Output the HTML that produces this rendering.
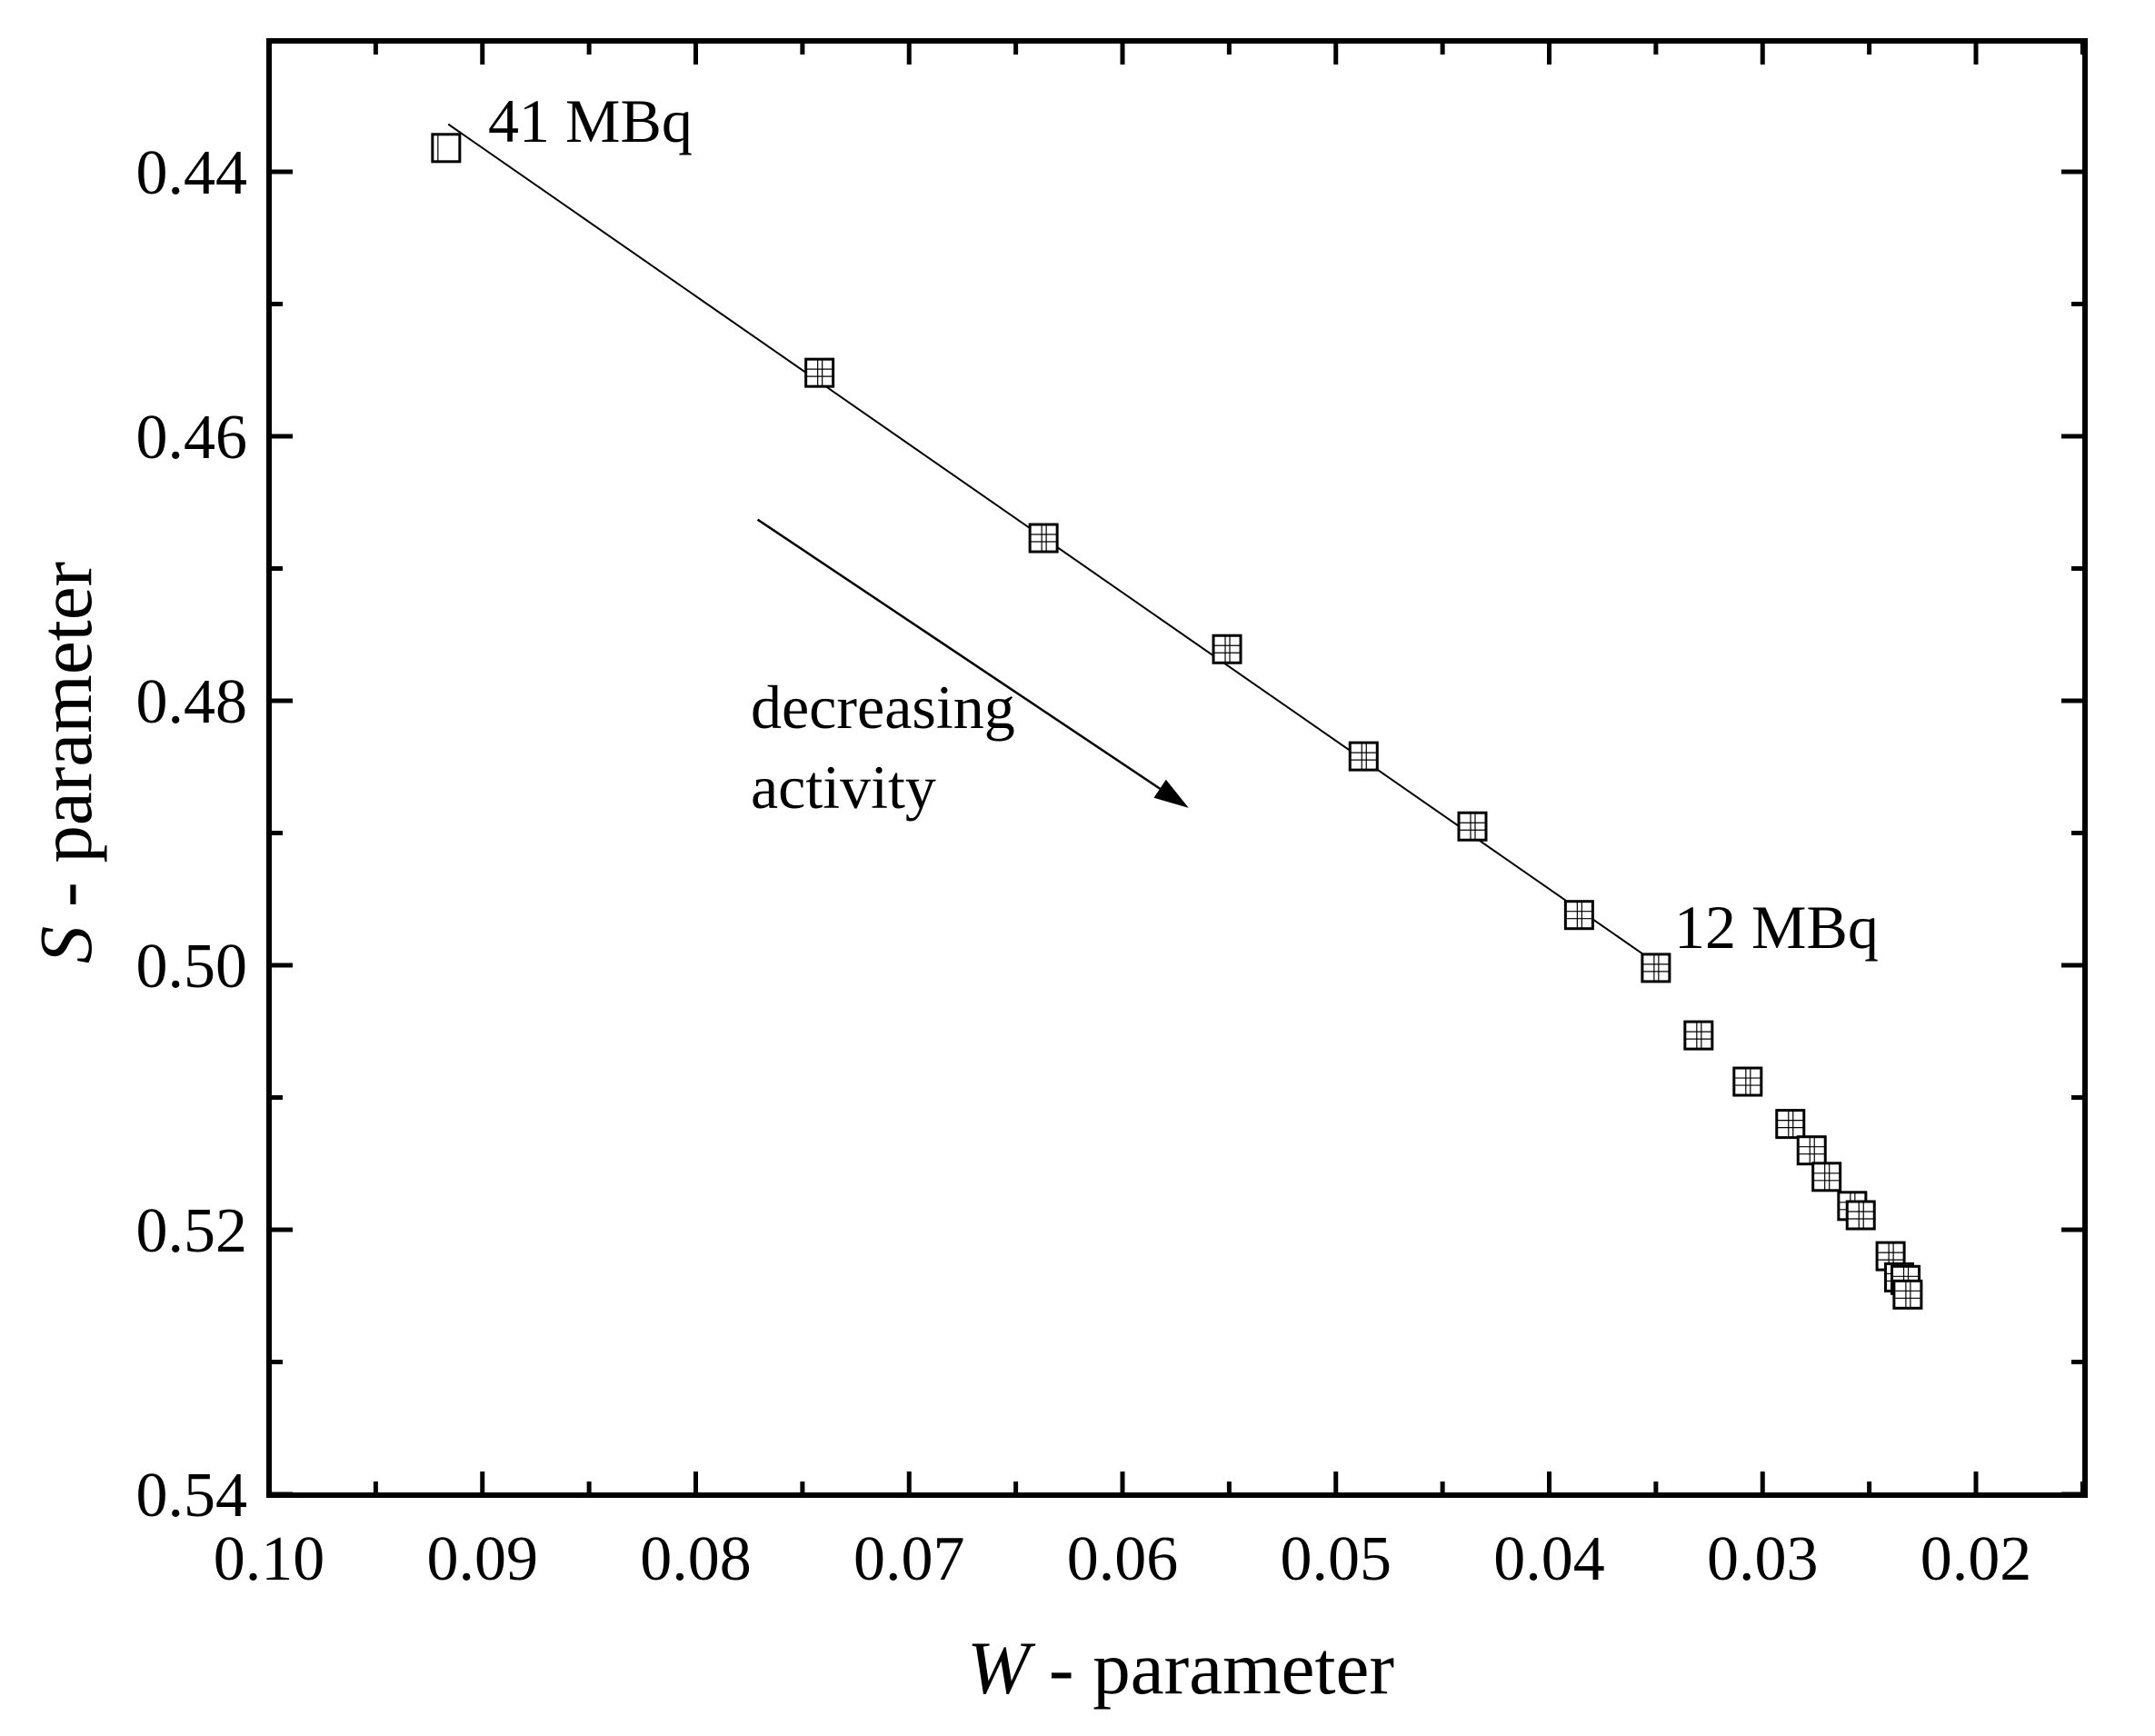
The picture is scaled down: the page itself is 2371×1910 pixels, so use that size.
<!DOCTYPE html>
<html><head><meta charset="utf-8"><style>
html,body{margin:0;padding:0;background:#fff;}
svg{display:block;}
text{font-family:"Liberation Serif",serif;fill:#000;}
</style></head><body>
<svg id="chart" width="2371" height="1910" viewBox="0 0 2371 1910" xmlns="http://www.w3.org/2000/svg">
<g id="axes"></g>
<g id="marks"></g>
<text x="537" y="156" font-size="68">41 MBq</text>
<text x="1842" y="1043" font-size="68">12 MBq</text>
<text x="826" y="801" font-size="68">decreasing</text>
<text x="826" y="889" font-size="68">activity</text>
<text x="1064" y="1863" font-size="83"><tspan font-style="italic">W</tspan> - parameter</text>
<text transform="translate(100,839) rotate(-90)" text-anchor="middle" font-size="83"><tspan font-style="italic">S</tspan> - parameter</text>
</svg>
<script>
const wValues=[0.0917,0.0742,0.0637,0.0551,0.0487,0.0436,0.0386,0.0350,0.0330,0.0307,0.0287,0.0277,0.0270,0.0258,0.0254,0.0240,0.0236,0.0233,0.0232];
const sValues=[0.4382,0.4552,0.4677,0.4761,0.4842,0.4895,0.4962,0.5002,0.5053,0.5088,0.5120,0.5140,0.5160,0.5182,0.5189,0.5220,0.5236,0.5238,0.5249];
const fitW=[0.0916,0.0353];
const fitS=[0.4364,0.4995];
const arrowW=[0.0771,0.0569];
const arrowS=[0.4663,0.4881];
const xTicks=[0.10,0.09,0.08,0.07,0.06,0.05,0.04,0.03,0.02];
const xTickLabels=["0.10","0.09","0.08","0.07","0.06","0.05","0.04","0.03","0.02"];
const yTicks=[0.44,0.46,0.48,0.50,0.52,0.54];
const yTickLabels=["0.44","0.46","0.48","0.50","0.52","0.54"];

const L=296,R=2294,T=45,B=1645;
const xMin=0.10,xPer=23475;
const yTop=0.44,yTopPx=189,yPer=14550;
const X=w=>L+(xMin-w)*xPer;
const Y=s=>yTopPx+(s-yTop)*yPer;
const NS="http://www.w3.org/2000/svg";
function mk(tag,attrs,parent){const e=document.createElementNS(NS,tag);for(const k in attrs)e.setAttribute(k,attrs[k]);parent.appendChild(e);return e;}
const axes=document.getElementById('axes');
const marks=document.getElementById('marks');

const frame=mk('rect',{x:L,y:T,width:R-L,height:B-T,fill:'none',stroke:'#000','stroke-width':6},axes);



for(let i=0;i<xTicks.length;i++){
  const x=X(xTicks[i]);
  const t1=mk('line',{x1:x,y1:B,x2:x,y2:B-26,stroke:'#000','stroke-width':5},axes);
  
  
  const t2=mk('line',{x1:x,y1:T,x2:x,y2:T+26,stroke:'#000','stroke-width':5},axes);
  
  
  const lb=mk('text',{x:x,y:1738,'text-anchor':'middle','font-size':70},axes);
  lb.textContent=xTickLabels[i];
  
  
  const m=xTicks[i]-0.005;
  if(m>0.0149){
    const xm=X(m);
    const a=mk('line',{x1:xm,y1:B,x2:xm,y2:B-15,stroke:'#000','stroke-width':5},axes);
    
    
    const b=mk('line',{x1:xm,y1:T,x2:xm,y2:T+15,stroke:'#000','stroke-width':5},axes);
    
    
  }
}
for(let i=0;i<yTicks.length;i++){
  const y=Y(yTicks[i]);
  const t1=mk('line',{x1:L,y1:y,x2:L+26,y2:y,stroke:'#000','stroke-width':5},axes);
  
  
  const t2=mk('line',{x1:R,y1:y,x2:R-26,y2:y,stroke:'#000','stroke-width':5},axes);
  
  
  const lb=mk('text',{x:272,y:y+24,'text-anchor':'end','font-size':70},axes);
  lb.textContent=yTickLabels[i];
  
  
  const m=yTicks[i]-0.01;
  if(m>0.431){
    const ym=Y(m);
    const a=mk('line',{x1:L,y1:ym,x2:L+15,y2:ym,stroke:'#000','stroke-width':5},axes);
    
    
    const b=mk('line',{x1:R,y1:ym,x2:R-15,y2:ym,stroke:'#000','stroke-width':5},axes);
    
    
  }
}
const fl=mk('line',{x1:X(fitW[0]),y1:Y(fitS[0]),x2:X(fitW[1]),y2:Y(fitS[1]),stroke:'#000','stroke-width':2},marks);


const ax1=X(arrowW[0]),ay1=Y(arrowS[0]),ax2=X(arrowW[1]),ay2=Y(arrowS[1]);
const ang=Math.atan2(ay2-ay1,ax2-ax1);
const hl=38,hw=12;
const bx=ax2-hl*Math.cos(ang),by=ay2-hl*Math.sin(ang);
const al=mk('line',{x1:ax1,y1:ay1,x2:bx,y2:by,stroke:'#000','stroke-width':2.5},marks);


const ah=mk('polygon',{points:`${ax2},${ay2} ${bx+hw*Math.sin(ang)},${by-hw*Math.cos(ang)} ${bx-hw*Math.sin(ang)},${by+hw*Math.cos(ang)}`,fill:'#000'},marks);


const h=15;
for(let i=0;i<wValues.length;i++){
  const cx=X(wValues[i]),cy=Y(sValues[i]);
  const g=mk('g',{},marks);
  
  
  mk('rect',{x:cx-h,y:cy-h,width:2*h,height:2*h,fill:'#fff',stroke:'#000','stroke-width':3},g);
  if(i>0){
    mk('line',{x1:cx-h,y1:cy-4,x2:cx+h,y2:cy-4,stroke:'#000','stroke-width':1.2},g);
    mk('line',{x1:cx-h,y1:cy+4,x2:cx+h,y2:cy+4,stroke:'#000','stroke-width':1.2},g);
    mk('line',{x1:cx-2,y1:cy-h,x2:cx-2,y2:cy+h,stroke:'#000','stroke-width':1.2},g);
    mk('line',{x1:cx+3,y1:cy-h,x2:cx+3,y2:cy+h,stroke:'#000','stroke-width':1.2},g);
  } else {
    mk('line',{x1:cx-9,y1:cy-h,x2:cx-9,y2:cy+h,stroke:'#000','stroke-width':1.2},g);
  }
}
</script>
</body></html>
